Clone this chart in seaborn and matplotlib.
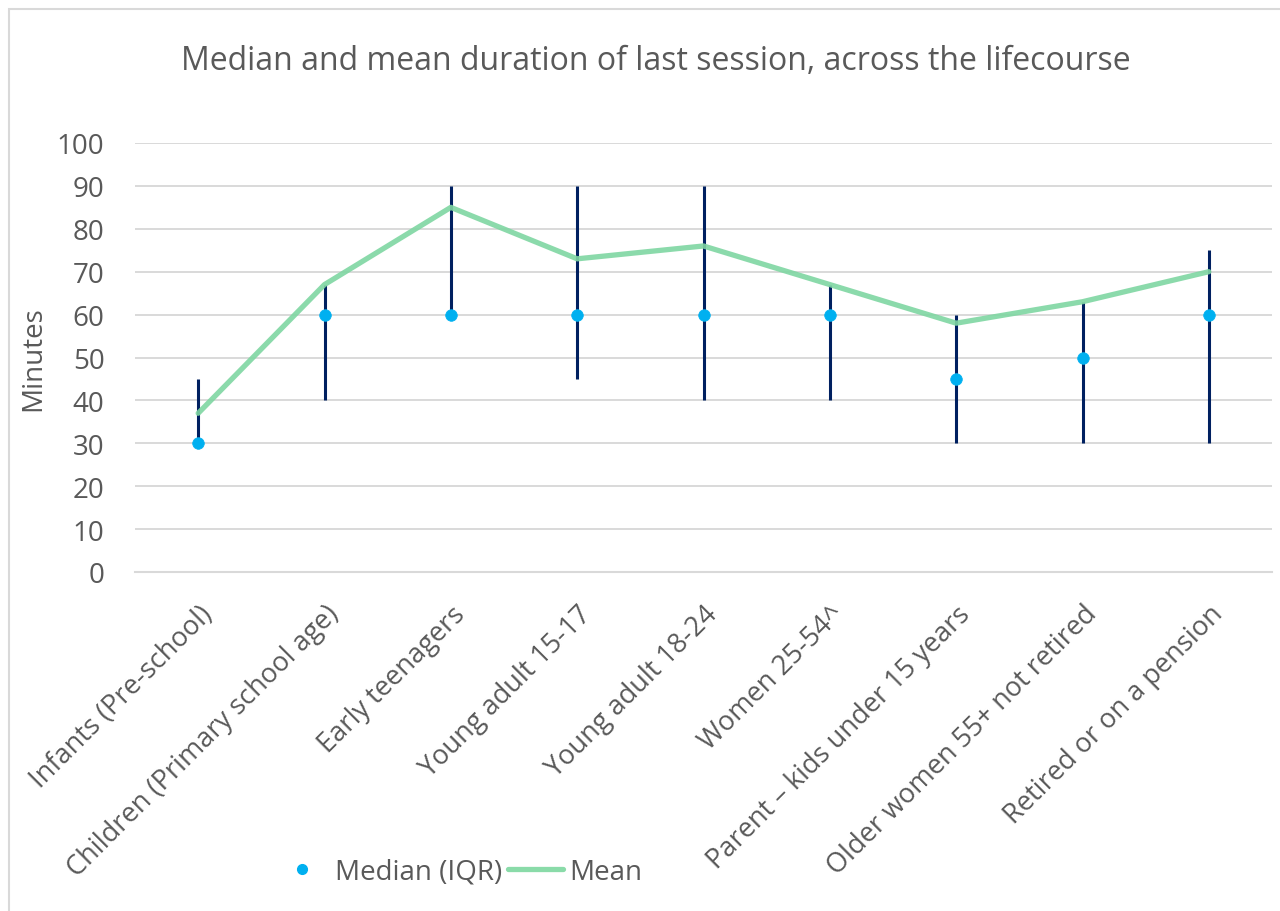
import matplotlib
matplotlib.use("Agg")
import matplotlib.pyplot as plt
import matplotlib.patches as mpatches
from matplotlib.lines import Line2D
import numpy as np
import pandas as pd
import seaborn as sns

# Data
groups = ["Infants (Pre-school)", "Children (Primary school age)", "Early teenagers",
          "Young adult 15-17", "Young adult 18-24", "Women 25-54^",
          "Parent \u2013 kids under 15 years", "Older women 55+ not retired",
          "Retired or on a pension"]
median = [30, 60, 60, 60, 60, 60, 45, 50, 60]
iqr_low = [30, 40, 60, 45, 40, 40, 30, 30, 30]
iqr_high = [45, 67, 90, 90, 90, 67, 60, 63, 75]
mean = [37, 67, 85, 73, 76, 67, 58, 63, 70]

df = pd.DataFrame({"group": groups, "median": median, "low": iqr_low,
                   "high": iqr_high, "mean": mean})

sns.set_theme(style="white")
plt.rcParams["font.family"] = ["Open Sans", "DejaVu Sans"]
text_col = "#595959"
grid_col = "#D9D9D9"

fig = plt.figure(figsize=(12.8, 9.12), dpi=100)
ax = fig.add_axes([135 / 1280, 1 - 573 / 912, (1272 - 135) / 1280, (573 - 144) / 912])

# outer chart border
fig.patches.append(mpatches.Rectangle((9 / 1280, -0.1), 1.2, 1 - 10 / 912 + 0.1,
                                      transform=fig.transFigure, fill=False,
                                      edgecolor="#D9D9D9", linewidth=1.5))

pos = np.arange(len(groups))

# IQR bars
ax.vlines(pos, df["low"], df["high"], color="#002060", linewidth=2.2, zorder=3)

# mean line
sns.lineplot(data=df, x="group", y="mean", sort=False, ax=ax, color="#7FD6A2",
             linewidth=3.8, alpha=0.9, zorder=4, legend=False)

# median points
sns.scatterplot(data=df, x="group", y="median", ax=ax, color="#00B0F0", s=70,
                edgecolor="#00B0F0", linewidth=0.5, zorder=5, legend=False)

ax.set_xlim(-0.5, len(groups) - 0.5)
ax.set_ylim(0, 100)
ax.set_yticks(range(0, 101, 10))
ax.yaxis.grid(True, color=grid_col, linewidth=1.4)
ax.set_axisbelow(True)
for s in ["top", "right", "left"]:
    ax.spines[s].set_visible(False)
ax.spines["bottom"].set_color(grid_col)
ax.spines["bottom"].set_linewidth(1.5)

ax.set_xticks(pos)
ax.set_xticklabels(groups, rotation=45, ha="right", rotation_mode="anchor",
                   fontsize=19.5, color=text_col)
ax.tick_params(axis="x", which="major", length=0, pad=20)
ax.set_xticks(np.arange(-0.5, len(groups), 1), minor=True)
ax.tick_params(axis="x", which="minor", length=8, width=1.5, color=grid_col,
               direction="out")
ax.tick_params(axis="y", length=0, labelsize=20, labelcolor=text_col, pad=22)

ax.set_xlabel("")
ax.set_ylabel("Minutes", fontsize=20, color=text_col)
ax.yaxis.set_label_coords(-0.077, 0.5)

fig.text(656 / 1280, 1 - 62 / 912,
         "Median and mean duration of last session, across the lifecourse",
         ha="center", va="center", fontsize=23, color=text_col)

handles = [Line2D([], [], marker="o", linestyle="", color="#00B0F0", markersize=7),
           Line2D([], [], color="#8ADBA9", linewidth=3.8)]
fig.legend(handles, ["Median (IQR)", "Mean"], loc="center",
           bbox_to_anchor=(458 / 1280, 1 - 873 / 912), ncol=2, frameon=False,
           fontsize=20, labelcolor=text_col, handlelength=2.0,
           handletextpad=0.2, columnspacing=0.2)

fig.savefig("out.png", dpi=100)
